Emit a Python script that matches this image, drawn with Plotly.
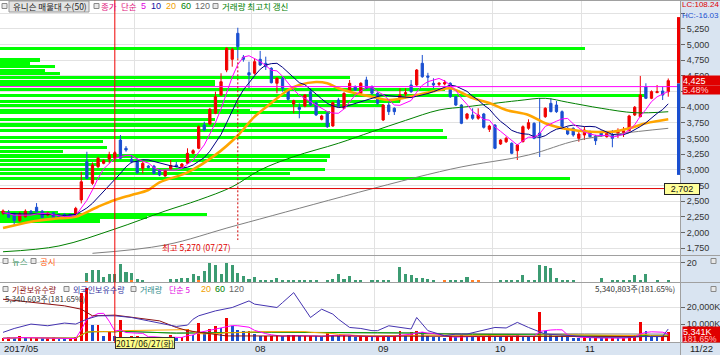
import plotly.graph_objects as go
import pandas as pd

W, H = 720, 355
PLOT_R = 680  # right edge of plot area (px)

# ---------------- data ----------------
day_idx = list(range(120))  # trading days 2017/05/29 .. 2017/11/22
opens = [2310, 2323, 2295, 2190, 2250, 2340, 2403, 2340, 2280, 2315, 2280, 2290, 2290, 2295, 2520,
         3130, 2785, 3050, 3105, 3175, 3185, 3477, 3345, 3170, 3130, 3025, 3060, 3060, 2998, 2903,
         3015, 3078, 3050, 3105, 3265, 3345, 3717, 3733, 3904, 4196, 4595, 4766, 5181, 4798, 4552,
         4543, 4766, 4702, 4622, 4383, 4463, 4276, 4052, 3999, 4020, 4249, 4073, 3808, 3904, 3701,
         4116, 3984, 4249, 4329, 4223, 4436, 4329, 4223, 3797, 4036, 3984, 4143, 4212, 4356, 4356,
         4702, 4500, 4383, 4367, 4372, 4383, 4169, 4036, 3824, 3877, 3824, 3893, 3648, 3717, 3413,
         3450, 3424, 3307, 3450, 3664, 3744, 3589, 3850, 4063, 4036, 3930, 3664, 3664, 3504, 3557,
         3610, 3541, 3610, 3530, 3557, 3584, 3594, 3626, 3877, 3850, 4329, 4143, 4233, 4260, 4249]
highs = [2370, 2360, 2320, 2330, 2370, 2360, 2470, 2360, 2330, 2330, 2300, 2310, 2300, 2410, 2970,
         3290, 3120, 3210, 3170, 3290, 3300, 3557, 3380, 3240, 3185, 3130, 3080, 3080, 3010, 3000,
         3158, 3130, 3110, 3345, 3330, 3710, 3770, 3990, 4250, 4543, 4960, 4950, 5270, 4835, 4728,
         4782, 4900, 4808, 4640, 4480, 4488, 4290, 4120, 4063, 4210, 4303, 4090, 3880, 3920, 4090,
         4150, 4240, 4436, 4350, 4400, 4488, 4350, 4240, 4050, 4089, 4000, 4303, 4303, 4436, 4610,
         4835, 4550, 4463, 4400, 4436, 4400, 4180, 4050, 3910, 3984, 3984, 3910, 3720, 3730, 3490,
         3530, 3440, 3410, 3710, 3808, 3760, 4148, 4000, 4143, 4100, 3950, 3690, 3680, 3610, 3690,
         3630, 3560, 3630, 3600, 3637, 3664, 3685, 3880, 4020, 4500, 4383, 4270, 4356, 4329, 4460]
lows = [2280, 2230, 2120, 2170, 2240, 2300, 2320, 2230, 2260, 2200, 2240, 2240, 2245, 2280, 2465,
        2850, 2760, 3030, 3090, 3105, 3170, 3170, 3290, 3105, 2940, 2945, 3020, 2930, 2900, 2890,
        3000, 3040, 3040, 3100, 3250, 3330, 3620, 3720, 3890, 4180, 4560, 4648, 4782, 4728, 4303,
        4520, 4660, 4595, 4380, 4223, 4250, 4110, 3904, 3824, 4000, 4020, 3860, 3790, 3670, 3690,
        4000, 3970, 4230, 4260, 4210, 4290, 4200, 4040, 3780, 3877, 3877, 4089, 4143, 4230, 4340,
        4470, 4329, 4303, 4340, 4350, 4150, 4020, 3730, 3800, 3800, 3800, 3660, 3605, 3330, 3400,
        3430, 3250, 3158, 3440, 3640, 3490, 3206, 3830, 3920, 3910, 3670, 3555, 3530, 3450, 3477,
        3515, 3398, 3530, 3515, 3361, 3510, 3525, 3610, 3860, 3840, 4130, 4130, 4230, 4116, 4169]
closes = [2345, 2243, 2190, 2295, 2340, 2320, 2333, 2240, 2310, 2210, 2255, 2250, 2260, 2385, 2810,
          2865, 3080, 3185, 3145, 3240, 3275, 3185, 3318, 3130, 2955, 3105, 3040, 2945, 2918, 2988,
          3070, 3050, 3094, 3265, 3307, 3690, 3637, 3968, 4169, 4408, 4942, 4926, 4967, 4766, 4515,
          4728, 4675, 4648, 4392, 4463, 4303, 4127, 4105, 3967, 4196, 4036, 3877, 3861, 3690, 4073,
          4020, 4223, 4383, 4276, 4383, 4303, 4223, 4063, 4036, 3930, 3930, 4196, 4233, 4249, 4595,
          4488, 4480, 4356, 4383, 4393, 4169, 4036, 3744, 3893, 3824, 3877, 3680, 3701, 3345, 3477,
          3505, 3265, 3397, 3690, 3754, 3504, 3541, 3984, 3930, 3930, 3690, 3573, 3557, 3573, 3637,
          3530, 3466, 3541, 3584, 3504, 3610, 3626, 3861, 4000, 4196, 4143, 4249, 4249, 4195, 4425]
pre_close = [2280, 2300, 2320, 2290, 2310, 2300, 2330, 2290, 2310]  # closes before the window

# moving averages (index, price)
ma20_i = [0, 5, 10, 13, 17, 20, 23, 26, 28, 33, 38, 42, 45, 48, 51, 53, 56, 58, 60, 63, 66, 69,
          74, 78, 80, 84, 87, 90, 94, 97, 100, 103, 105, 109, 112, 115, 119]
ma20_v = [2072, 2173, 2227, 2253, 2412, 2519, 2599, 2679, 2800, 2960, 3240, 3550, 3850, 4068, 4276,
          4356, 4404, 4383, 4303, 4223, 4169, 4116, 4196, 4276, 4303, 4148, 4068, 3956, 3877, 3744,
          3664, 3626, 3610, 3610, 3664, 3744, 3808]
ma60_i = [0, 10, 20, 29, 35, 41, 46, 52, 60, 66, 72, 78, 83, 92, 97, 101, 107, 113, 119]
ma60_v = [1693, 1785, 2056, 2343, 2519, 2730, 2998, 3211, 3425, 3610, 3790, 3956, 4009, 4105, 4143,
          4080, 3984, 3913, 3929]
ma120_i = [16, 29, 42, 80, 94, 103, 119]
ma120_v = [1668, 1801, 2120, 3010, 3238, 3477, 3664]

# volume (thousand shares)
volume_k = [1600, 2200, 1600, 2700, 1600, 1600, 2200, 1600, 1600, 2200, 1200, 800, 800, 2200, 28600,
            31600, 9400, 9500, 2700, 5100, 2700, 12400, 2200, 2700, 3100, 2200, 2200, 2200, 1600, 1600,
            3500, 1600, 2200, 7000, 3500, 10600, 5100, 7000, 9000, 7500, 13400, 8600, 6600, 6100, 6100,
            4100, 2700, 2700, 2700, 3500, 2700, 3500, 3500, 2700, 2700, 3100, 2700, 2200, 5100, 3500,
            2700, 3500, 2700, 2200, 2700, 2700, 2200, 2700, 3100, 2200, 2700, 6100, 3500, 5500, 5800,
            5500, 3000, 2500, 2200, 2000, 2700, 2200, 3500, 2500, 2200, 2500, 2700, 3500, 3000, 2200,
            2700, 2700, 3500, 2500, 2200, 3000, 17200, 6100, 4000, 3000, 2700, 2200, 1800, 1600, 2200,
            1600, 1800, 1600, 1600, 1800, 1600, 1800, 3000, 3500, 11000, 6100, 3500, 2700, 2700, 5341]
foreign_i = [0, 2, 5, 8, 11, 13, 15, 17, 20, 23, 26, 29, 31, 33, 34, 35, 38, 41, 44, 45, 47, 49,
             50, 52, 55, 57, 59, 60, 62, 64, 66, 67, 69, 71, 73, 74, 76, 79, 81, 83, 88, 90, 92, 94,
             96, 97, 100, 103, 106, 112, 115, 118, 119]
foreign_v = [5100, 7400, 10000, 9000, 10600, 10000, 12900, 14900, 14900, 13900, 11900, 10000, 8600,
             9400, 12900, 14900, 17800, 19800, 23700, 21800, 20800, 19800, 22700, 28600, 13900, 18800,
             15900, 12900, 8000, 7400, 6100, 6100, 9000, 8000, 7100, 13900, 6100, 3100, 4100, 4100,
             8000, 7700, 11000, 8000, 5100, 4100, 3500, 2700, 2200, 2200, 2700, 2700, 7100]
inst_i = [0, 5, 11, 14, 16, 20, 23, 28, 31, 33, 40, 119]
inst_v = [24700, 22800, 20800, 18800, 14900, 15300, 13900, 11900, 8000, 6100, 3000, 2600]

# news / disclosure counts
news_cnt = [0] * 15 + [8, 12, 12, 5, 8, 8, 18, 10, 7, 3, 2, 0, 0, 0, 0,
                       3, 3, 4, 4, 8, 4, 11, 19, 17, 8, 19, 17, 9, 6, 3,
                       5, 2, 2, 2, 4, 2, 2, 2, 2, 2, 2, 2, 0, 2, 3,
                       8, 3, 6, 2, 2, 0, 2, 2, 2, 2, 0, 15, 8, 7, 4,
                       4, 3, 2, 0, 0, 2, 2, 2, 5, 0, 0, 0, 0, 0, 2,
                       2, 2, 2, 7, 2, 2, 17, 16, 14, 4, 2, 2, 2, 0, 0,
                       0, 0, 4, 0, 2, 2, 2, 2, 7, 2, 8, 0, 2, 0, 2]
disc_cnt = [0] * 120
for k, v in [(15, 1), (23, 2), (35, 2), (79, 2), (84, 2), (85, 2)]:
    disc_cnt[k] = v

# price-by-volume profile (price level, relative volume %)
prof_price = [4939, 4755, 4707, 4659, 4595, 4547, 4475, 4404, 4356, 4284, 4188, 4100, 4028, 3956,
              3909, 3797, 3717, 3637, 3525, 3461, 3358, 3294, 3222, 3158, 3094, 3014, 2950, 2870,
              2327, 2288, 2232, 2184]
prof_vol = [90.7, 6.2, 4.7, 8.5, 7.0, 9.3, 54.3, 33.3, 33.3, 69.0, 100, 62.0, 59.4, 38.8,
            51.2, 33.3, 51.2, 68.7, 69.3, 16.0, 16.6, 9.8, 51.2, 50.7, 15.5, 50.4, 45.0, 88.4,
            9.0, 32.1, 22.8, 15.5]

month_bounds = [23.5, 44.5, 66.5, 87.5, 103.5]
month_labels = ['07', '08', '09', '10', '11']
price_ticks = list(range(1750, 5501, 250))
cross_idx = 20          # 2017/06/27
cross_price = 2702
high_idx = 42           # 07/27 high
magenta_level = 4330

# ---------------- derived ----------------
X0, X1 = -0.54, 121.1
PXU = PLOT_R / (X1 - X0)  # px per day

def px2paper_x(px):
    return px / W

def px2paper_y(px):
    return 1 - px / H

def idx2px(i):
    return (i - X0) * PXU

full = pd.Series(pre_close + closes)
ma5 = full.rolling(5).mean().iloc[len(pre_close):].tolist()
ma10 = full.rolling(10).mean().iloc[len(pre_close):].tolist()
vs = pd.Series(volume_k)
vma5 = vs.rolling(5, min_periods=1).mean()
vma20 = vs.rolling(20, min_periods=1).mean()
vma60 = vs.rolling(60, min_periods=1).mean()
vma120 = vs.rolling(120, min_periods=1).mean()

RED = '#f00000'
BLUE = '#1a4fd0'
vol_colors = [RED] + [RED if volume_k[k] >= volume_k[k - 1] else BLUE for k in range(1, 120)]

KFONT = 'Noto Sans CJK KR, Liberation Sans'
NFONT = 'Liberation Sans, Noto Sans CJK KR'

fig = go.Figure()

# volume profile bars
prof_len = [v / 100 * 645 / PXU for v in prof_vol]
fig.add_trace(go.Bar(y=prof_price, x=prof_len, base=X0, orientation='h', width=48,
                     marker=dict(color='#00ff00', line=dict(width=0)), xaxis='x', yaxis='y'))

fig.add_trace(go.Candlestick(x=day_idx, open=opens, high=highs, low=lows, close=closes,
                             increasing=dict(line=dict(color=RED, width=1), fillcolor=RED),
                             decreasing=dict(line=dict(color=BLUE, width=1), fillcolor=BLUE),
                             whiskerwidth=0, xaxis='x', yaxis='y'))

fig.add_trace(go.Scatter(x=ma120_i, y=ma120_v, mode='lines', line=dict(color='#808080', width=1, shape='spline'), xaxis='x', yaxis='y'))
fig.add_trace(go.Scatter(x=ma60_i, y=ma60_v, mode='lines', line=dict(color='#008000', width=1, shape='spline'), xaxis='x', yaxis='y'))
fig.add_trace(go.Scatter(x=ma20_i, y=ma20_v, mode='lines', line=dict(color='#ffa500', width=2.6, shape='spline'), xaxis='x', yaxis='y'))
fig.add_trace(go.Scatter(x=day_idx, y=ma10, mode='lines', line=dict(color='#000080', width=1), xaxis='x', yaxis='y'))
fig.add_trace(go.Scatter(x=day_idx, y=ma5, mode='lines', line=dict(color='#ff00ff', width=1), xaxis='x', yaxis='y'))

# news panel
fig.add_trace(go.Bar(x=day_idx, y=disc_cnt, width=0.55, marker=dict(color='#ff7f27', line=dict(width=0)), xaxis='x2', yaxis='y2'))
fig.add_trace(go.Bar(x=day_idx, y=news_cnt, width=0.55, marker=dict(color='#3c9b72', line=dict(width=0)), xaxis='x2', yaxis='y2'))

# volume panel
fig.add_trace(go.Bar(x=day_idx, y=volume_k, width=0.5, marker=dict(color=vol_colors, line=dict(width=0)), xaxis='x3', yaxis='y3'))
fig.add_trace(go.Scatter(x=day_idx, y=vma120, mode='lines', line=dict(color='#808080', width=1), xaxis='x3', yaxis='y3'))
fig.add_trace(go.Scatter(x=day_idx, y=vma60, mode='lines', line=dict(color='#00a000', width=1), xaxis='x3', yaxis='y3'))
fig.add_trace(go.Scatter(x=day_idx, y=vma20, mode='lines', line=dict(color='#ffa500', width=1), xaxis='x3', yaxis='y3'))
fig.add_trace(go.Scatter(x=day_idx, y=vma5, mode='lines', line=dict(color='#ff00ff', width=1), xaxis='x3', yaxis='y3'))
fig.add_trace(go.Scatter(x=inst_i, y=inst_v, mode='lines', line=dict(color='#8b1010', width=1), xaxis='x3', yaxis='y3'))
fig.add_trace(go.Scatter(x=foreign_i, y=foreign_v, mode='lines', line=dict(color='#4433b0', width=1), xaxis='x3', yaxis='y3'))

dom_x = [0, PLOT_R / W]
xcommon = dict(domain=dom_x, range=[X0, X1], showticklabels=False, tickvals=month_bounds,
               showgrid=True, gridcolor='#e2e2e2', gridwidth=1, zeroline=False, ticks='',
               showline=False, rangeslider=dict(visible=False), fixedrange=True)
tickfont = dict(size=9, color='#333333', family=NFONT)
ycommon = dict(side='right', ticks='outside', ticklen=4, tickcolor='#666666', tickfont=tickfont,
               showgrid=True, gridcolor='#e2e2e2', zeroline=False, showline=False, fixedrange=True)

# labels hidden in the reference behind the last-price box
hidden_ticks = {4250, 5500}
fig.update_layout(
    width=W, height=H, margin=dict(l=0, r=0, t=0, b=0),
    paper_bgcolor='white', plot_bgcolor='white', showlegend=False, barmode='stack',
    boxgap=0.42,
    font=dict(family=NFONT, size=9),
    xaxis=dict(**xcommon, anchor='y'),
    xaxis2=dict(**xcommon, anchor='y2', matches='x'),
    xaxis3=dict(**xcommon, anchor='y3', matches='x'),
    yaxis=dict(**ycommon, domain=[px2paper_y(255), 1], range=[1641, 5713], anchor='x',
               tickvals=price_ticks, ticktext=['' if v in hidden_ticks else f'{v:,}' for v in price_ticks]),
    yaxis2=dict(**ycommon, domain=[px2paper_y(282), px2paper_y(256)], range=[-0.3, 26.7], anchor='x2',
                tickvals=[20], ticktext=['20']),
    yaxis3=dict(**ycommon, domain=[px2paper_y(342), px2paper_y(283)], range=[-600, 34300], anchor='x3',
                tickvals=[10000, 20000], ticktext=['10,000K', '20,000K']),
)

shapes = []
AXBG = '#d9e4f1'
# right axis band and bottom date band
shapes.append(dict(type='rect', xref='paper', yref='paper', x0=px2paper_x(PLOT_R + 1), x1=1, y0=0, y1=1,
                   fillcolor=AXBG, line=dict(width=0), layer='below'))
shapes.append(dict(type='rect', xref='paper', yref='paper', x0=0, x1=1, y0=0, y1=px2paper_y(343),
                   fillcolor=AXBG, line=dict(width=0), layer='below'))
# frame lines
for ypx in [0.5, 255.5, 282.5, 342.5]:
    shapes.append(dict(type='line', xref='paper', yref='paper', x0=0, x1=1, y0=px2paper_y(ypx), y1=px2paper_y(ypx),
                       line=dict(color='#a0a0a0', width=1)))
shapes.append(dict(type='line', xref='paper', yref='paper', x0=px2paper_x(PLOT_R + 0.5), x1=px2paper_x(PLOT_R + 0.5),
                   y0=0, y1=1, line=dict(color='#a0a0a0', width=1)))
# magenta level line
shapes.append(dict(type='line', xref='paper', yref='y', x0=0, x1=px2paper_x(PLOT_R), y0=magenta_level, y1=magenta_level,
                   line=dict(color='#ff00ff', width=1)))
# crosshair
shapes.append(dict(type='line', xref='paper', yref='y', x0=0, x1=px2paper_x(PLOT_R), y0=cross_price, y1=cross_price,
                   line=dict(color='#e00000', width=1)))
shapes.append(dict(type='line', xref='x', yref='paper', x0=cross_idx, x1=cross_idx, y0=px2paper_y(343), y1=1,
                   line=dict(color='#f00000', width=1)))
# dashed high marker
shapes.append(dict(type='line', xref='x', yref='y', x0=high_idx, x1=high_idx, y0=lows[high_idx], y1=1880,
                   line=dict(color='#d00000', width=1, dash='2px,2px')))
# right side range bar
shapes.append(dict(type='rect', xref='paper', yref='y', x0=px2paper_x(677), x1=px2paper_x(680), y0=closes[-1] - 45, y1=5440,
                   fillcolor='#ee0000', line=dict(width=0)))
shapes.append(dict(type='rect', xref='paper', yref='y', x0=px2paper_x(677), x1=px2paper_x(680), y0=2920, y1=closes[-1] - 45,
                   fillcolor='#1a4fd0', line=dict(width=0)))
# legend icons
def icon(xpx, ypx):
    shapes.append(dict(type='rect', xref='paper', yref='paper', x0=px2paper_x(xpx), x1=px2paper_x(xpx + 5),
                       y0=px2paper_y(ypx + 2.5), y1=px2paper_y(ypx - 2.5), fillcolor='#e8e8e8',
                       line=dict(color='#888888', width=1)))
for xpx in [2, 94, 213]:
    icon(xpx, 6)
for xpx in [3, 31]:
    icon(xpx, 261)
for xpx in [3, 64, 131]:
    icon(xpx, 289)
icon(711, 261)
icon(711, 289)
shapes.append(dict(type='rect', xref='paper', yref='paper', x0=px2paper_x(9), x1=px2paper_x(89),
                   y0=px2paper_y(12), y1=px2paper_y(1), fillcolor='#e4e4e4', line=dict(color='#9a9a9a', width=1)))
fig.update_layout(shapes=shapes)

anns = []
def ann(text, xpx, ypx, color='#222222', size=9, xanchor='left', family=KFONT, **kw):
    anns.append(dict(text=text, x=px2paper_x(xpx), y=px2paper_y(ypx), xref='paper', yref='paper',
                     xanchor=xanchor, yanchor='middle', showarrow=False,
                     font=dict(color=color, size=size, family=family), **kw))

KS = 8.5  # Korean legend size
# top legend
ann('유니슨 매물대 수(50)', 11, 6.5, '#222222', KS)
ann('종가', 99, 6.5, '#e0147c', KS)
ann('단순', 119, 6.5, '#e0147c', KS)
ann('5', 139, 6.5, '#e000e0', 9, family=NFONT)
ann('10', 149, 6.5, '#1010a0', 9, family=NFONT)
ann('20', 164, 6.5, '#f0a000', 9, family=NFONT)
ann('60', 179, 6.5, '#008000', 9, family=NFONT)
ann('120', 193, 6.5, '#666666', 9, family=NFONT)
ann('거래량 최고치 갱신', 220, 6.5, '#008000', KS)
# right axis info
ann('LC:108.24', 719.5, 5, '#e00000', 8, xanchor='right', family=NFONT, borderpad=0)
ann('HC:-16.03', 719.5, 15.5, '#1a4fd0', 8, xanchor='right', family=NFONT, borderpad=0)
pct = (closes[-1] / closes[-2] - 1) * 100
y_last = 29 + (5250 - closes[-1]) * 0.0626
ann(f'{closes[-1]:,}', 682, y_last, 'white', 9, family=NFONT, bgcolor='#e00000', width=37, height=9, align='left', borderpad=0)
ann(f'{pct:.2f}%', 682, y_last + 9, '#ffd0d0', 9, family=NFONT, bgcolor='#e00000', width=37, height=8, align='left', borderpad=0)
anns.append(dict(text=f'{cross_price:,}', x=px2paper_x(700), y=cross_price, xref='paper', yref='y', showarrow=False,
                 font=dict(size=9, color='#111111', family=NFONT), bgcolor='#ffff99', bordercolor='#222222',
                 borderwidth=1, borderpad=0, width=34, height=10))
ann(f'최고 {highs[high_idx]:,} (07/27)', 160, 247, '#e00000', KS)
# news legend
ann('뉴스', 10, 261, '#2e8b57', KS)
ann('공시', 38, 261, '#ff6010', KS)
# volume legend
ann('기관보유수량', 10, 289, '#8b1010', 8)
ann('외국인보유수량', 71, 289, '#3030a0', 8)
ann('거래량', 138, 289, '#2e8b8b', 8)
ann('단순 5', 167, 289, '#e000e0', 8)
ann('20', 199, 289, '#f0a000', 9, family=NFONT)
ann('60', 213, 289, '#008000', 9, family=NFONT)
ann('120', 227, 289, '#666666', 9, family=NFONT)
ann('5,340,603주(181.65%)', 3, 298, '#333333', 8)
ann('5,340,803주(181.65%)', 677, 288.5, '#333333', 8, xanchor='right')
ann(f'{volume_k[-1]:,}K', 682, 331, 'white', 9, family=NFONT, bgcolor='#e00000', width=37, height=9, align='left', borderpad=0)
ann('181.65%', 682, 338.5, '#ffc0c0', 8.5, family=NFONT, bgcolor='#e00000', width=37, height=6, align='left', borderpad=0)
# bottom date labels
ann('2017/05', 2, 348.5, '#222222', 9.5, family=NFONT)
for b, lab in zip(month_bounds, month_labels):
    if lab == '07':
        continue
    ann(lab, idx2px(b) + 1, 348.5, '#222222', 9.5, family=NFONT)
ann('11/22', 688, 348.5, '#222222', 9.5, family=NFONT)
anns.append(dict(text='2017/06/27(화)', x=idx2px(cross_idx) / W, y=px2paper_y(348.5), xref='paper', yref='paper',
                 showarrow=False, font=dict(size=8.5, color='#111111', family=KFONT),
                 bgcolor='#ffff88', bordercolor='#333333', borderwidth=1, borderpad=0, height=10))
fig.update_layout(annotations=anns)

fig.write_html('out.html')
